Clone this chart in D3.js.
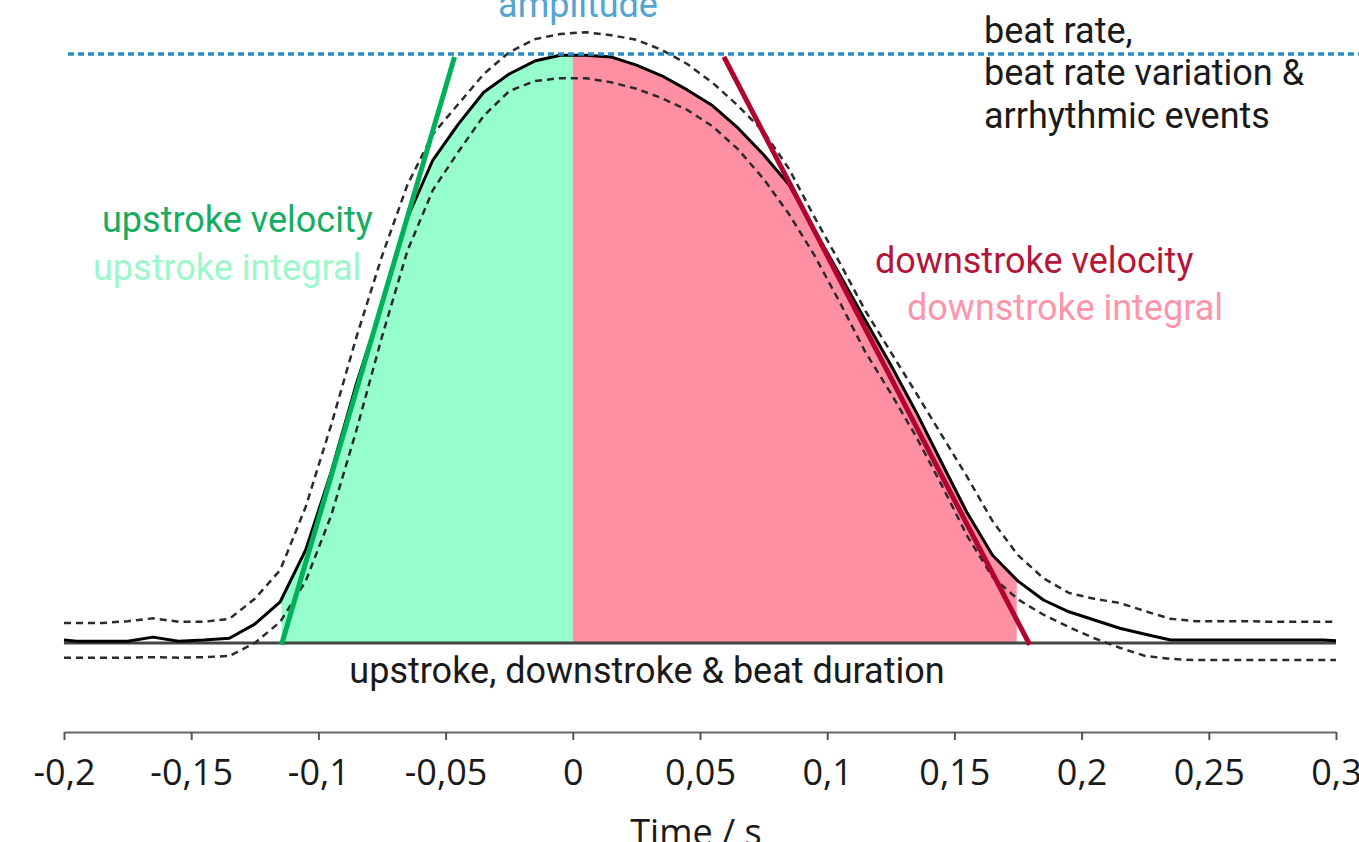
<!DOCTYPE html>
<html>
<head>
<meta charset="utf-8">
<script src="https://cdn.jsdelivr.net/npm/d3@7"></script>
<style>
  html, body { margin: 0; padding: 0; background: #fff; overflow: hidden; }
  .axis text { font-family: "Open Sans", sans-serif; font-size: 36px; fill: #1a1a1a; }
  .note { font-family: Roboto, sans-serif; font-size: 36px; }
</style>
</head>
<body>
<div id="chart"></div>
<script>

//==============================================================================
//
//                                    DATA
//
// Averaged beat trace (normalised to amplitude) with its upper and lower
// bounds. Time in seconds relative to the peak.
//
//==============================================================================

var times = [-0.2, -0.195, -0.185, -0.175, -0.165, -0.155, -0.145, -0.135,
             -0.125, -0.115, -0.105, -0.095, -0.085, -0.075, -0.065, -0.055,
             -0.045, -0.035, -0.025, -0.015, -0.005, 0.005, 0.015, 0.025,
             0.035, 0.045, 0.055, 0.065, 0.075, 0.085, 0.095, 0.105, 0.115,
             0.125, 0.135, 0.145, 0.155, 0.165, 0.175, 0.185, 0.195, 0.205,
             0.215, 0.225, 0.235, 0.245, 0.255, 0.265, 0.275, 0.285, 0.295,
             0.3];

var meanTrace = [0.005, 0.003, 0.003, 0.003, 0.010, 0.003, 0.005, 0.008,
                 0.032, 0.070, 0.158, 0.290, 0.441, 0.574, 0.722, 0.820,
                 0.881, 0.935, 0.966, 0.988, 0.998, 0.998, 0.995, 0.981,
                 0.963, 0.939, 0.912, 0.874, 0.829, 0.778, 0.701, 0.625, 0.548,
                 0.472, 0.392, 0.306, 0.221, 0.149, 0.105, 0.073, 0.053, 0.039,
                 0.025, 0.015, 0.005, 0.005, 0.005, 0.005, 0.005, 0.005, 0.005,
                 0.004];

var upperTrace = [0.034, 0.034, 0.034, 0.037, 0.042, 0.036, 0.036, 0.041,
                  0.075, 0.124, 0.231, 0.370, 0.520, 0.657, 0.778, 0.864,
                  0.915, 0.966, 1.003, 1.025, 1.034, 1.037, 1.032, 1.024,
                  1.007, 0.983, 0.951, 0.912, 0.868, 0.805, 0.723, 0.645, 0.564,
                  0.494, 0.424, 0.353, 0.282, 0.207, 0.149, 0.110, 0.085, 0.075,
                  0.068, 0.054, 0.041, 0.037, 0.037, 0.037, 0.036, 0.036, 0.036,
                  0.036];

var lowerTrace = [-0.025, -0.025, -0.025, -0.025, -0.024, -0.025, -0.024, -0.022,
                  0.000, 0.036, 0.105, 0.216, 0.362, 0.520, 0.666, 0.769,
                  0.834, 0.895, 0.937, 0.954, 0.959, 0.959, 0.952, 0.941,
                  0.925, 0.905, 0.877, 0.838, 0.788, 0.728, 0.658, 0.578, 0.494,
                  0.424, 0.350, 0.268, 0.182, 0.112, 0.074, 0.048, 0.027, 0.008,
                  -0.008, -0.022, -0.027, -0.029, -0.029, -0.029, -0.029, -0.029,
                  -0.029, -0.029];

var xTicks = [-0.2, -0.15, -0.1, -0.05, 0, 0.05, 0.1, 0.15, 0.2, 0.25, 0.3];

// beat landmarks
var amplitude     = 1.0;
var upstrokeStart = -0.1145;
var peakTime      = 0;
var downstrokeEnd = 0.1745;

// tangents drawn for the maximal up- and downstroke velocity
var upstrokeTangent   = [[-0.1145, -0.003], [-0.0465, 0.995]];
var downstrokeTangent = [[0.0594, 0.995], [0.1796, -0.003]];

//==============================================================================
//
//                                   LAYOUT
//
//==============================================================================

var width = 1359, height = 842;

var xRange = [64, 1336];     // -0.2 .. 0.3 s
var yRange = [643, 54];      // 0 .. amplitude
var axisY  = 732;

var colors = {
  upFill:     "#96fdcc",
  downFill:   "#ff8fa3",
  upLine:     "#00b05a",
  downLine:   "#b0052f",
  upText:     "#14ad60",
  upText2:    "#9cf8cb",
  downText:   "#b3163a",
  downText2:  "#ff95aa",
  amplitude:  "#2a8cc4",
  ampText:    "#55a3cf",
  ink:        "#1a1a1a"
};

//==============================================================================
//
//                                   SCALES
//
//==============================================================================

var x = d3.scaleLinear().domain([-0.2, 0.3]).range(xRange);
var y = d3.scaleLinear().domain([0, amplitude]).range(yRange);

var points = times.map(function(t, i) {
  return { t: t, mean: meanTrace[i], upper: upperTrace[i], lower: lowerTrace[i] };
});

//==============================================================================
//
//                                 SVG ELEMENTS
//
//==============================================================================

var svg = d3.select("#chart")
            .append("svg")
            .attr("width", width)
            .attr("height", height);

var defs = svg.append("defs");

// clip regions for the two integrals
defs.append("clipPath").attr("id", "clipUp")
    .append("rect")
    .attr("x", x(upstrokeStart)).attr("y", 0)
    .attr("width", x(peakTime) - x(upstrokeStart)).attr("height", height);
defs.append("clipPath").attr("id", "clipDown")
    .append("rect")
    .attr("x", x(peakTime)).attr("y", 0)
    .attr("width", x(downstrokeEnd) - x(peakTime)).attr("height", height);

var area = d3.area()
             .x(function(d) { return x(d.t); })
             .y0(y(0))
             .y1(function(d) { return y(d.mean); });

svg.append("path").datum(points)
   .attr("d", area).attr("fill", colors.upFill)
   .attr("clip-path", "url(#clipUp)");
svg.append("path").datum(points)
   .attr("d", area).attr("fill", colors.downFill)
   .attr("clip-path", "url(#clipDown)");

// zero line
svg.append("line")
   .attr("x1", x(-0.2)).attr("x2", x(0.3))
   .attr("y1", y(0)).attr("y2", y(0))
   .attr("stroke", "#444").attr("stroke-width", 3);

// bounds and mean trace
function trace(field) {
  return d3.line()
           .x(function(d) { return x(d.t); })
           .y(function(d) { return y(d[field]); });
}

["upper", "lower"].forEach(function(f) {
  svg.append("path").datum(points)
     .attr("d", trace(f))
     .attr("fill", "none")
     .attr("stroke", "#2b2b2b")
     .attr("stroke-width", 2.5)
     .attr("stroke-dasharray", "7,5");
});

svg.append("path").datum(points)
   .attr("d", trace("mean"))
   .attr("fill", "none")
   .attr("stroke", "#000")
   .attr("stroke-width", 3)
   .attr("stroke-linejoin", "round");

// velocity tangents
var seg = d3.line()
            .x(function(d) { return x(d[0]); })
            .y(function(d) { return y(d[1]); });

svg.append("path").attr("d", seg(upstrokeTangent))
   .attr("stroke", colors.upLine).attr("stroke-width", 5).attr("fill", "none");
svg.append("path").attr("d", seg(downstrokeTangent))
   .attr("stroke", colors.downLine).attr("stroke-width", 5).attr("fill", "none");

// amplitude line
svg.append("line")
   .attr("x1", 68).attr("x2", width)
   .attr("y1", y(amplitude)).attr("y2", y(amplitude))
   .attr("stroke", colors.amplitude)
   .attr("stroke-width", 3.5)
   .attr("stroke-dasharray", "6,4");

//==============================================================================
//
//                                    AXIS
//
//==============================================================================

var axis = d3.axisBottom(x)
             .tickValues(xTicks)
             .tickSize(8)
             .tickSizeOuter(0)
             .tickFormat(function(d) { return String(d).replace(".", ","); });

var axisG = svg.append("g")
               .attr("class", "axis")
               .attr("transform", "translate(0," + axisY + ")")
               .call(axis);

axisG.select(".domain").attr("stroke", "#666").attr("stroke-width", 2);
axisG.selectAll(".tick line").attr("stroke", "#555").attr("stroke-width", 2);
axisG.selectAll(".tick text").attr("y", 53).attr("dy", null);

svg.append("text")
   .attr("x", 696)
   .attr("y", 845)
   .attr("text-anchor", "middle")
   .style("font-family", "'Open Sans', sans-serif")
   .style("font-size", "36px")
   .attr("fill", colors.ink)
   .text("Time / s");

//==============================================================================
//
//                                 ANNOTATIONS
//
//==============================================================================

function note(text, px, py, color, anchor) {
  svg.append("text")
     .attr("class", "note")
     .attr("x", px).attr("y", py)
     .attr("fill", color)
     .attr("text-anchor", anchor || "start")
     .text(text);
}

note("amplitude", 578, 17, colors.ampText, "middle");
note("beat rate,", 984, 43, colors.ink);
note("beat rate variation &", 984, 85, colors.ink);
note("arrhythmic events", 984, 128, colors.ink);
note("upstroke velocity", 102, 232, colors.upText);
note("upstroke integral", 93, 280, colors.upText2);
note("downstroke velocity", 875, 273, colors.downText);
note("downstroke integral", 907, 320, colors.downText2);
note("upstroke, downstroke & beat duration", 647, 683, colors.ink, "middle");

</script>
</body>
</html>
